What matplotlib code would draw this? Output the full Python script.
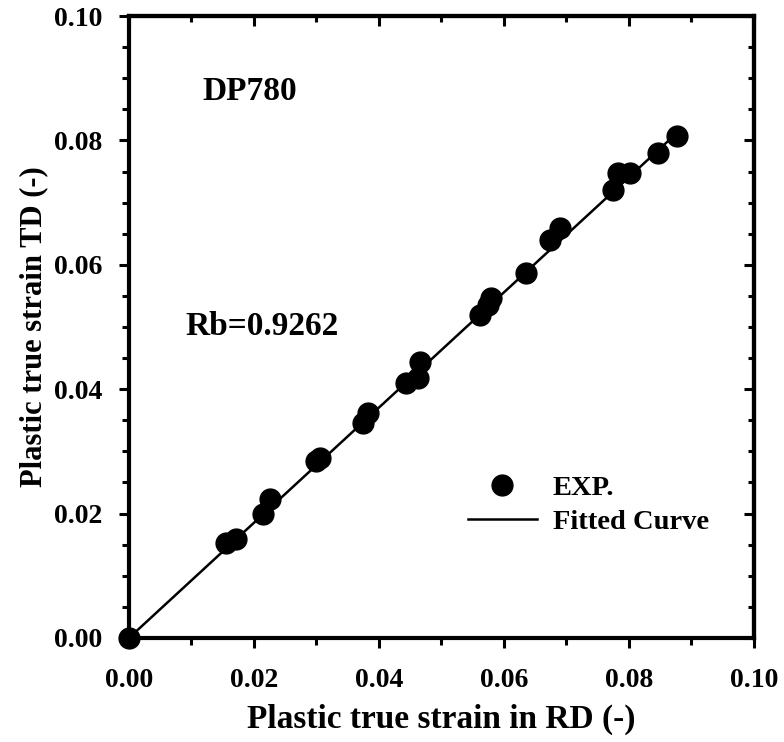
import numpy as np
import matplotlib
matplotlib.use("Agg")
import matplotlib.pyplot as plt
from matplotlib.ticker import MultipleLocator, FormatStrFormatter

rd_strain = [0.0, 0.0155, 0.0171, 0.0214, 0.0226, 0.0300, 0.0306, 0.0375, 0.0382,
             0.0444, 0.0463, 0.0466, 0.0562, 0.0574, 0.0579, 0.0636, 0.0674,
             0.0690, 0.0774, 0.0782, 0.0802, 0.0846, 0.0877]
td_strain = [0.0, 0.0153, 0.0159, 0.0200, 0.0224, 0.0285, 0.0290, 0.0345, 0.0361,
             0.0410, 0.0418, 0.0444, 0.0519, 0.0535, 0.0547, 0.0587, 0.0640,
             0.0659, 0.0720, 0.0748, 0.0748, 0.0780, 0.0807]
rb = 0.9262

plt.rcParams['font.family'] = 'Liberation Serif'
plt.rcParams['font.weight'] = 'bold'

fig = plt.figure(figsize=(7.84, 7.42), dpi=100)
ax = fig.add_axes([0.1645, 0.1402, 0.7972, 0.8382])

fit_x = np.array([0.0, max(rd_strain)])
ax.plot(rd_strain, td_strain, 'o', color='black', ms=15, clip_on=False,
        zorder=3, label='EXP.')
ax.plot(fit_x, rb * fit_x, '-', color='black', lw=1.8, label='Fitted Curve')

ax.set_xlim(0, 0.10)
ax.set_ylim(0, 0.10)
ax.xaxis.set_major_locator(MultipleLocator(0.02))
ax.xaxis.set_minor_locator(MultipleLocator(0.01))
ax.yaxis.set_major_locator(MultipleLocator(0.02))
ax.yaxis.set_minor_locator(MultipleLocator(0.005))
ax.xaxis.set_major_formatter(FormatStrFormatter('%.2f'))
ax.yaxis.set_major_formatter(FormatStrFormatter('%.2f'))

for s in ax.spines.values():
    s.set_linewidth(3)

ax.tick_params(which='both', bottom=True, left=True, top=False, right=False,
               direction='out', width=2.2, labelsize=20)
ax.tick_params(which='major', length=7.5)
ax.tick_params(which='minor', length=5)
ax.tick_params(axis='x', which='major', pad=14)
ax.tick_params(axis='y', which='major', pad=11.5)

# inward ticks on top and right
ax2 = ax.secondary_xaxis('top')
ax2.xaxis.set_major_locator(MultipleLocator(0.02))
ax2.xaxis.set_minor_locator(MultipleLocator(0.01))
ax2.tick_params(which='both', direction='in', width=2.2, labeltop=False)
ax2.tick_params(which='major', length=7)
ax2.tick_params(which='minor', length=4.5)
ax3 = ax.secondary_yaxis('right')
ax3.yaxis.set_major_locator(MultipleLocator(0.02))
ax3.yaxis.set_minor_locator(MultipleLocator(0.005))
ax3.tick_params(which='both', direction='in', width=2.2, labelright=False)
ax3.tick_params(which='major', length=7)
ax3.tick_params(which='minor', length=4.5)
for a in (ax2, ax3):
    for s in a.spines.values():
        s.set_linewidth(3)

ax.set_xlabel('Plastic true strain in RD (-)', fontsize=24, fontweight='bold', labelpad=8)
ax.set_ylabel('Plastic true strain TD (-)', fontsize=22, fontweight='bold', labelpad=4)

ax.text(0.0194, 0.0878, 'DP780', fontsize=24, fontweight='bold', ha='center', va='center')
ax.text(0.0213, 0.0500, 'Rb=%.4f' % rb, fontsize=24, fontweight='bold', ha='center', va='center')

ax.legend(loc='lower left', bbox_to_anchor=(0.5424, 0.165), frameon=False,
          fontsize=20.5, handlelength=2.42, labelspacing=0.3, handletextpad=0.56,
          borderpad=0, borderaxespad=0, markerscale=1.0)

fig.savefig('out.png', dpi=100)
